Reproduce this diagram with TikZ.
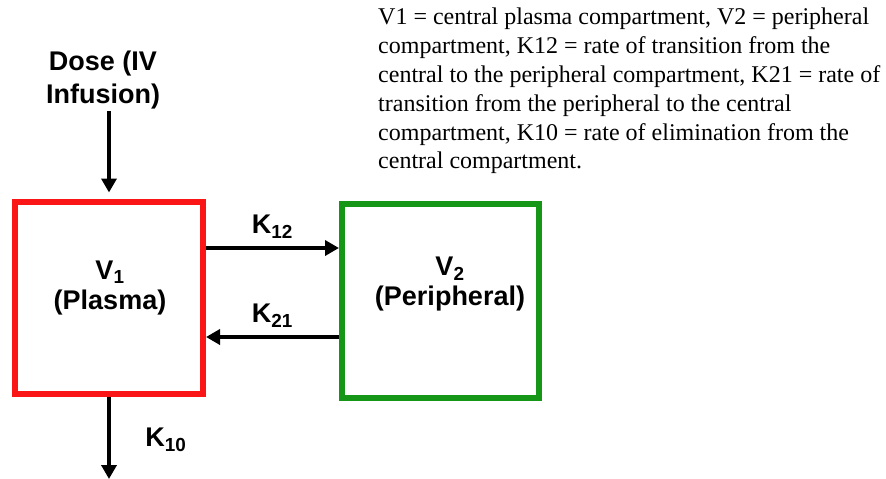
\documentclass[tikz,border=0pt]{standalone}
\usepackage{fontspec}
\setmainfont{Liberation Serif}
\setsansfont{Liberation Sans}
\usetikzlibrary{arrows.meta,positioning,calc}
\definecolor{plasmared}{RGB}{250,22,22}
\definecolor{periphgreen}{RGB}{22,150,22}
\tikzset{
  cmpt/.style={draw,line width=6pt,minimum width=188pt,minimum height=192pt,inner sep=0pt},
  boldlab/.style={font=\sffamily\bfseries\fontsize{27}{30}\selectfont,align=center,inner sep=0pt},
  flow/.style={-{Triangle[length=14pt,width=15pt]},line width=4pt},
  note/.style={font=\fontsize{24}{28.8}\selectfont,align=left,inner sep=0pt,anchor=north west}
}

\begin{document}
\begin{tikzpicture}[x=1pt,y=-1pt]
\useasboundingbox (0,0) rectangle (886,479);
% compartments
\node[cmpt,draw=plasmared] (v1) at (109,297.5) {};
\node[cmpt,draw=periphgreen,minimum width=197pt,minimum height=194pt] (v2) at (440.5,301) {};
\node[boldlab] (v1lab) at (110,288) {V\textsubscript{1}\\(Plasma)};
\node[boldlab] (v2lab) at (450,284) {V\textsubscript{2}\\(Peripheral)};
% dose and elimination
\node[boldlab,font=\sffamily\bfseries\fontsize{27}{33}\selectfont] (dose) at (103,80) {Dose (IV\\Infusion)};
\coordinate (elim) at (109,479);
\draw[flow,shorten >=6pt] ([yshift=-2pt]dose.south -| v1.north) -- (v1.north);
\draw[flow] (v1.south) -- (elim);
\node[boldlab] (k10) at (166,440) {K\textsubscript{10}};
% transfer between compartments
\draw[flow] ([yshift=49.5pt]v1.east) -- ([yshift=49.5pt]v1.east -| v2.west) node[boldlab,midway,above=8pt] (k12) {K\textsubscript{12}};
\draw[flow] ([yshift=-39.5pt]v1.east -| v2.west) -- ([yshift=-39.5pt]v1.east) node[boldlab,midway,above=8pt] (k21) {K\textsubscript{21}};
% caption
\node[note] (legend) at (378,8) {V1 = central plasma compartment, V2 = peripheral\\
compartment, K12 = rate of transition from the\\
central to the peripheral compartment, K21 = rate of\\
transition from the peripheral to the central\\
compartment, K10 = rate of elimination from the\\
central compartment.};
\end{tikzpicture}
\end{document}
